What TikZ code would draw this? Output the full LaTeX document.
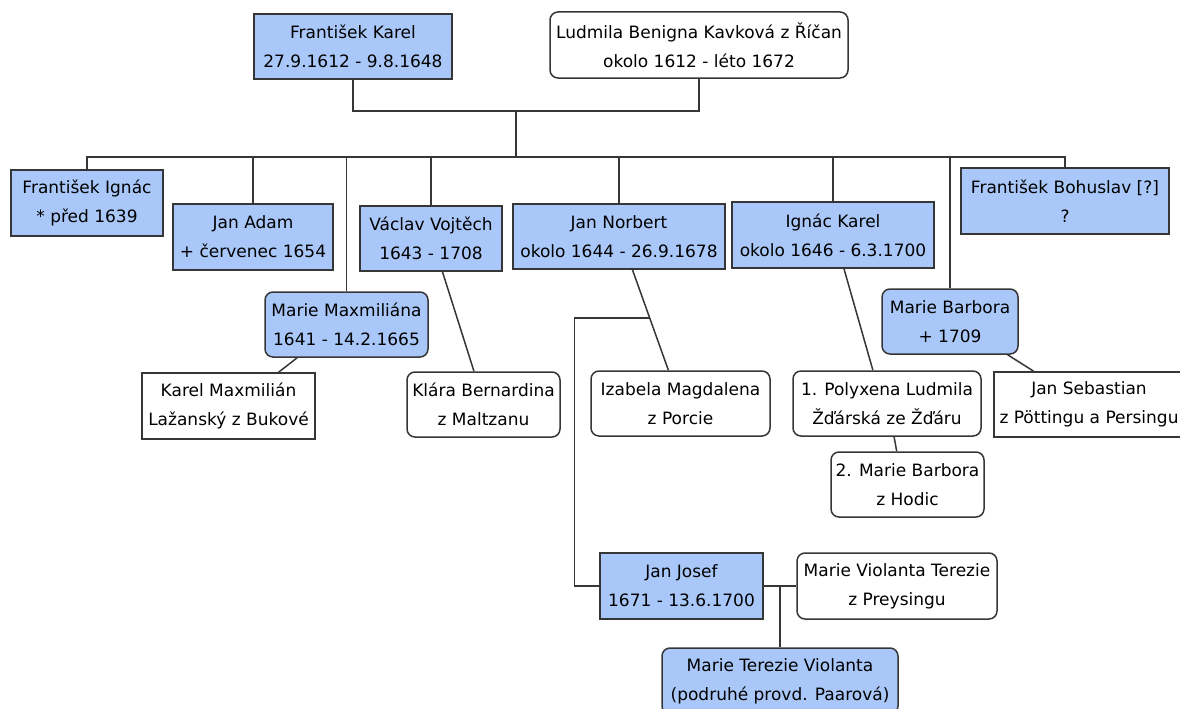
\documentclass[tikz,border=0pt]{standalone}
\usepackage{fontspec}
\setmainfont{DejaVu Sans}
\definecolor{kinblue}{HTML}{A9C8F9}
\definecolor{linegray}{HTML}{363636}
\usetikzlibrary{calc}

\begin{document}
\begin{tikzpicture}[x=1pt, y=-1pt,
    kin/.style={rectangle, fill=kinblue, draw=linegray, line width=1.5pt,
                inner sep=0pt, align=center,
                font=\fontsize{17}{29}\selectfont},
    kinr/.style={kin, rounded corners=8pt},
    partner/.style={kin, fill=white, rounded corners=8pt},
    partnersq/.style={kin, fill=white},
    link/.style={draw=linegray, line width=1.5pt}
  ]
    \useasboundingbox (0,0) rectangle (1180,709);
    % Parents
    \node[kin, minimum width=198, minimum height=65] (fk) at (353, 46.5)
      {František Karel\\27.9.1612 - 9.8.1648};
    \node[partner, minimum width=298, minimum height=66] (lud) at (699, 45)
      {Ludmila Benigna Kavková z Říčan\\okolo 1612 - léto 1672};
    \coordinate (fam) at (516, 110);
    \coordinate (bar) at (516, 157);
    % Children
    \node[kin, minimum width=152, minimum height=66] (fi) at (87, 203)
      {František Ignác\\* před 1639};
    \node[kin, minimum width=160, minimum height=66] (ja) at (253, 237)
      {Jan Adam\\+ červenec 1654};
    \node[kinr, minimum width=163, minimum height=65] (mm) at (346.5, 324.5)
      {Marie Maxmiliána\\1641 - 14.2.1665};
    \node[kin, minimum width=142, minimum height=65] (vv) at (431, 238.5)
      {Václav Vojtěch\\1643 - 1708};
    \node[kin, minimum width=212, minimum height=65] (jn) at (619, 236.5)
      {Jan Norbert\\okolo 1644 - 26.9.1678};
    \node[kin, minimum width=202, minimum height=66] (ik) at (833, 235)
      {Ignác Karel\\okolo 1646 - 6.3.1700};
    \node[kinr, minimum width=136, minimum height=65] (mb) at (950, 321.5)
      {Marie Barbora\\+ 1709};
    \node[kin, minimum width=208, minimum height=66] (fb) at (1065, 201)
      {František Bohuslav [?]\\?};
    % Spouses of the children
    \node[partnersq, minimum width=173, minimum height=66] (km) at (228.5, 406)
      {Karel Maxmilián\\Lažanský z Bukové};
    \node[partner, minimum width=153, minimum height=65] (kb) at (483.5, 404.5)
      {Klára Bernardina\\z Maltzanu};
    \node[partner, minimum width=179, minimum height=65] (iz) at (680.5, 403.5)
      {Izabela Magdalena\\z Porcie};
    \node[partner, minimum width=188, minimum height=65] (pl) at (887, 403.5)
      {1. Polyxena Ludmila\\Žďárská ze Žďáru};
    \node[partner, minimum width=153, minimum height=65] (mbh) at (907.5, 484.5)
      {2. Marie Barbora\\z Hodic};
    \node[partnersq, minimum width=190, minimum height=65] (js) at (1089, 404.5)
      {Jan Sebastian\\z Pöttingu a Persingu};
    % Grandchildren
    \node[kin, minimum width=163, minimum height=66] (jj) at (681.5, 586)
      {Jan Josef\\1671 - 13.6.1700};
    \node[partner, minimum width=200, minimum height=66] (mv) at (897, 586)
      {Marie Violanta Terezie\\z Preysingu};
    \node[kinr, minimum width=236, minimum height=66] (mt) at (780, 681)
      {Marie Terezie Violanta\\(podruhé provd. Paarová)};

    % Parents to sibling bar
    \draw[link] (fk.south) -- ++(0, 31) -| (lud.south);
    \draw[link] (fam) -- (bar);
    \draw[link] (fi.north) |- (bar) -| (fb.north);
    \draw[link] (ja.north) -- (ja.north |- bar);
    \draw[link] (mm.north) -- (mm.north |- bar);
    \draw[link] (vv.north) -- (vv.north |- bar);
    \draw[link] (jn.north) -- (jn.north |- bar);
    \draw[link] (ik.north) -- (ik.north |- bar);
    \draw[link] (mb.north) -- (mb.north |- bar);

    % Marriages
    \draw[link] (mm.214) -- (km.34);
    \draw[link] (vv.289) -- (kb.106);
    \draw[link] (jn.292) -- (iz.110);
    \draw[link] (ik.288) -- (pl.113);
    \draw[link] (pl.282) -- (mbh.108);
    \draw[link] (mb.330) -- (js.149);

    % Jan Josef and his family
    \coordinate (jnl) at ($(jn.292)!0.48!(iz.110)$);
    \draw[link] (jnl) -- ++(-75, 0) |- (jj.west);
    \draw[link] (jj.east) -- (mv.west);
    \draw[link] (mt.north |- jj.east) -- (mt.north);
  \end{tikzpicture}
\end{document}
